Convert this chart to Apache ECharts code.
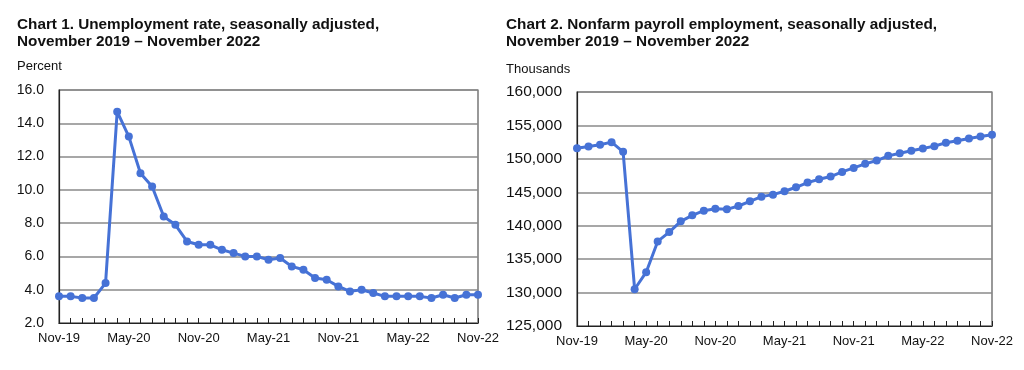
<!DOCTYPE html>
<html>
<head>
<meta charset="utf-8">
<script src="https://cdn.jsdelivr.net/npm/echarts@6/dist/echarts.min.js"></script>
<style>
html,body{margin:0;padding:0;background:#fff;}
#c{width:1024px;height:370px;}
</style>
</head>
<body>
<div id="c"></div>
<script>
const months = ['Nov-19','Dec-19','Jan-20','Feb-20','Mar-20','Apr-20','May-20','Jun-20','Jul-20','Aug-20','Sep-20','Oct-20',
  'Nov-20','Dec-20','Jan-21','Feb-21','Mar-21','Apr-21','May-21','Jun-21','Jul-21','Aug-21','Sep-21','Oct-21',
  'Nov-21','Dec-21','Jan-22','Feb-22','Mar-22','Apr-22','May-22','Jun-22','Jul-22','Aug-22','Sep-22','Oct-22','Nov-22'];
const unemploymentRate = [3.6,3.6,3.5,3.5,4.4,14.7,13.2,11.0,10.2,8.4,7.9,6.9,
  6.7,6.7,6.4,6.2,6.0,6.0,5.8,5.9,5.4,5.2,4.7,4.6,
  4.2,3.9,4.0,3.8,3.6,3.6,3.6,3.6,3.5,3.7,3.5,3.7,3.7];
const payrollEmployment = [151600,151850,152100,152500,151050,130500,133050,137650,139050,140650,141550,142250,
  142550,142450,142950,143650,144350,144650,145150,145750,146450,146950,147350,148050,
  148650,149250,149750,150450,150850,151200,151550,151900,152400,152700,153050,153350,153600];
const title1 = 'Chart 1. Unemployment rate, seasonally adjusted,\nNovember 2019 \u2013 November 2022';
const title2 = 'Chart 2. Nonfarm payroll employment, seasonally adjusted,\nNovember 2019 \u2013 November 2022';
const unit1 = 'Percent';
const unit2 = 'Thousands';

const FONT = '"Liberation Sans", Arial, sans-serif';
const BLUE = '#4672d6';
const chart = echarts.init(document.getElementById('c'), null, {renderer:'canvas'});

function xAxis(gi){
  return {
    type:'category', gridIndex:gi, data:months, boundaryGap:false,
    axisLine:{lineStyle:{color:'#222', width:1.2}},
    axisTick:{show:true, inside:true, length:5, interval:0, lineStyle:{color:'#222'}},
    axisLabel:{interval:5, color:'#111', fontSize:13, fontFamily:FONT, margin:9},
    splitLine:{show:false}
  };
}
function yAxis(gi, min, max, step, fmt, fs){
  return {
    type:'value', gridIndex:gi, min:min, max:max, interval:step,
    axisLine:{show:true, lineStyle:{color:'#222', width:1.2}},
    axisTick:{show:false},
    axisLabel:{color:'#111', fontSize:fs, fontFamily:FONT, margin:15, formatter:fmt},
    splitLine:{show:true, lineStyle:{color:'#8a8a8a', width:1.5}}
  };
}
function series(gi, data){
  return {
    type:'line', xAxisIndex:gi, yAxisIndex:gi, data:data,
    symbol:'circle', symbolSize:8, showSymbol:true, showAllSymbol:true,
    lineStyle:{color:BLUE, width:3}, itemStyle:{color:BLUE},
    animation:false
  };
}

const titleStyle = {fontFamily:FONT, fontSize:15.3, fontWeight:'bold', color:'#111', lineHeight:17};
const unitStyle = {fontFamily:FONT, fontSize:13, fontWeight:'normal', color:'#111'};
chart.setOption({
  animation:false,
  title:[
    {text:title1, left:17, top:16, padding:0, textStyle:titleStyle},
    {text:unit1, left:17, top:60, padding:0, textStyle:unitStyle},
    {text:title2, left:506, top:16, padding:0, textStyle:titleStyle},
    {text:unit2, left:506, top:63, padding:0, textStyle:unitStyle}
  ],
  grid:[
    {left:59, top:90, width:419, height:233, show:true, borderColor:'#555', borderWidth:1.2, backgroundColor:'transparent'},
    {left:577, top:92, width:415, height:234, show:true, borderColor:'#555', borderWidth:1.2, backgroundColor:'transparent'}
  ],
  xAxis:[xAxis(0), xAxis(1)],
  yAxis:[
    yAxis(0, 2, 16, 2, v => v.toFixed(1), 14),
    yAxis(1, 125000, 160000, 5000, v => v.toLocaleString('en-US'), 15.5)
  ],
  series:[series(0, unemploymentRate), series(1, payrollEmployment)]
});
</script>
</body>
</html>
